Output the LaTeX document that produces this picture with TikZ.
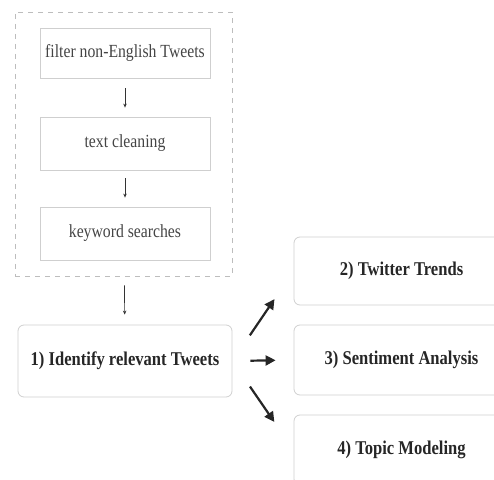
\documentclass[tikz,border=0pt]{standalone}
\usepackage{fontspec}
\setmainfont{Liberation Serif}
\newfontfamily\narrowserif[FakeStretch=0.85]{Liberation Serif}
\usetikzlibrary{arrows.meta}

\definecolor{boxgray}{HTML}{CFCFCF}
\definecolor{dashgray}{HTML}{BDBDBD}
\definecolor{txtgray}{HTML}{444444}

\begin{document}
\begin{tikzpicture}[x=1pt, y=1pt,
    stepbox/.style={draw=boxgray, line width=0.8pt, minimum width=170pt, text=txtgray,
        font=\narrowserif\fontsize{18.5}{20}\selectfont},
    taskbox/.style={draw=boxgray, line width=0.8pt, rounded corners=6pt, text=black!85,
        font=\narrowserif\fontsize{19.5}{21}\selectfont\bfseries},
    thin arrow/.style={-{Stealth[length=4pt, width=3.5pt]}, line width=0.7pt, black!80},
    fat arrow/.style={-{Triangle[length=10pt, width=10pt]}, line width=2.2pt, black!85}
  ]
    \useasboundingbox (0,0) rectangle (494,479);
    \clip (0,0) rectangle (494,479);

    % Preprocessing group
    \node[draw=dashgray, dashed, dash pattern=on 5pt off 5pt, line width=0.8pt,
        minimum width=217pt, minimum height=264pt] (prep) at (123.5,335) {};
    \node[stepbox, minimum height=50pt] (filter) at (125,426) {filter non-English Tweets};
    \node[stepbox, minimum height=53pt] (clean) at (125,335.5) {text cleaning};
    \node[stepbox, minimum height=53pt] (keyword) at (125,245.5) {keyword searches};

    \draw[thin arrow, shorten <=10pt, shorten >=9pt] (filter) -- (clean);
    \draw[thin arrow, shorten <=8pt, shorten >=9pt] (clean) -- (keyword);

    % Main step
    \node[taskbox, minimum width=214pt, minimum height=72pt] (ident) at (125,118) {1) Identify relevant Tweets};
    \draw[thin arrow, shorten <=9pt, shorten >=10pt] (prep) -- (ident);

    % Analyses
    \node[taskbox, minimum width=215pt, minimum height=68pt] (trends) at (401.5,208) {2) Twitter Trends};
    \node[taskbox, minimum width=215pt, minimum height=70pt] (senti) at (401.5,119) {3) Sentiment Analysis};
    \node[taskbox, minimum width=215pt, minimum height=70pt] (topic) at (401.5,29) {4) Topic Modeling};

    \draw[fat arrow, shorten <=31pt, shorten >=34pt] (ident.east) -- (trends.west);
    \draw[fat arrow, shorten <=18pt, shorten >=18pt] (ident.east) -- (senti.west);
    \draw[fat arrow, shorten <=31pt, shorten >=34pt] (ident.east) -- (topic.west);
\end{tikzpicture}
\end{document}
